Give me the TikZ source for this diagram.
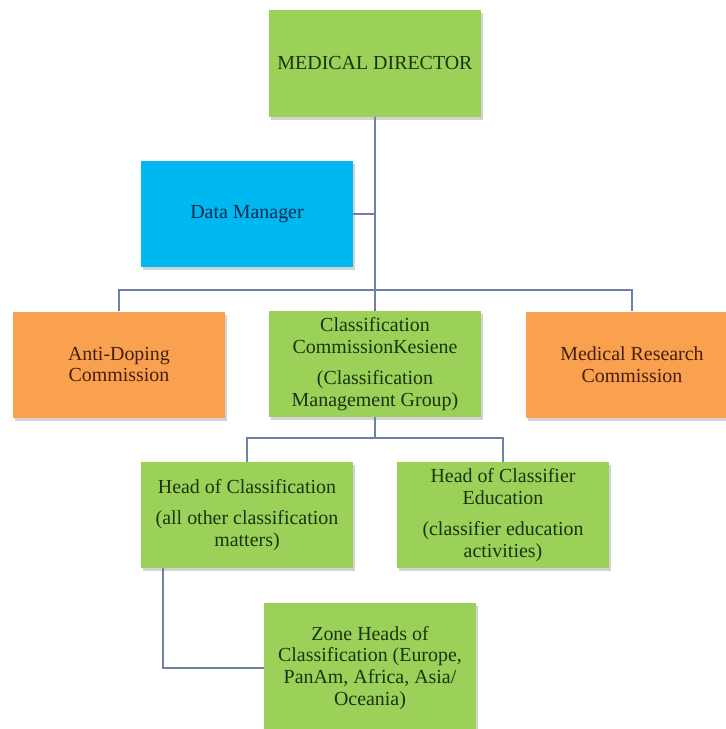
\documentclass[tikz,border=0pt]{standalone}
\usepackage{fontspec}
\setmainfont{Liberation Serif}
\usetikzlibrary{shadows}
\definecolor{boxgreen}{RGB}{155,208,89}
\definecolor{boxblue}{RGB}{0,184,240}
\definecolor{boxorange}{RGB}{249,161,79}
\definecolor{linkgray}{RGB}{110,128,165}
\definecolor{txtgreen}{RGB}{28,52,14}
\definecolor{txtblue}{RGB}{16,40,80}
\definecolor{txtbrown}{RGB}{70,30,10}
\tikzset{
    box/.style={minimum width=212bp, minimum height=106bp, align=center, inner sep=0pt,
        font=\fontsize{20}{22}\selectfont, drop shadow={opacity=0.35, shadow xshift=2bp, shadow yshift=-3bp}},
    greenbox/.style={box, fill=boxgreen, text=txtgreen},
    bluebox/.style={box, fill=boxblue, text=txtblue},
    orangebox/.style={box, fill=boxorange, text=txtbrown},
    link/.style={draw=linkgray, line width=2bp}
}

\begin{document}
\begin{tikzpicture}[x=1bp, y=-1bp]
    \useasboundingbox (0,0) rectangle (726,729);
    % boxes
    \node[greenbox] (md) at (375,63.5) {MEDICAL DIRECTOR};
    \node[bluebox] (dm) at (247,214) {Data Manager};
    \node[orangebox] (ad) at (119,364.5) {Anti-Doping\\Commission};
    \node[greenbox] (cc) at (375,364) {Classification\\CommissionKesiene\\[9bp](Classification\\Management Group)};
    \node[orangebox] (mr) at (632,364.5) {Medical Research\\Commission};
    \node[greenbox] (hc) at (247,515) {Head of Classification\\[9bp](all other classification\\matters)};
    \node[greenbox] (hce) at (503,515) {Head of Classifier\\Education\\[9bp](classifier education\\activities)};
    \node[greenbox, minimum height=130bp] (zh) at (370,668) {Zone Heads of\\Classification (Europe,\\PanAm, Africa, Asia/\\Oceania)};
    % connectors
    \coordinate (bus) at (375,290);
    \coordinate (bus2) at (375,438);
    \draw[link] (md.south) -- (cc.north);
    \draw[link] (dm.east) -- (dm.east -| md.south);
    \draw[link] (ad.north) |- (bus) -| (mr.north);
    \draw[link] (cc.south) -- (bus2);
    \draw[link] (hc.north) |- (bus2) -| (hce.north);
    \draw[link] ([xshift=22bp]hc.south west) |- (zh.west);
\end{tikzpicture}
\end{document}
